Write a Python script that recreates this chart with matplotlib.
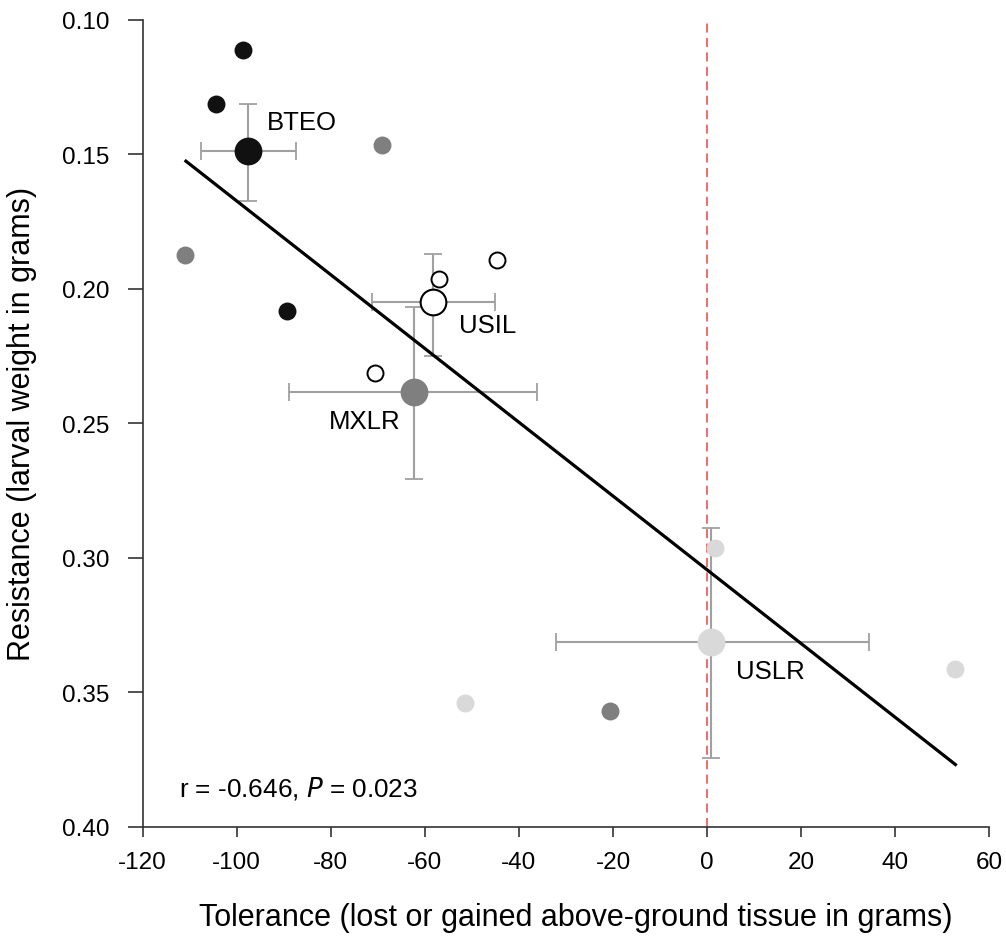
import numpy as np
import matplotlib.pyplot as plt

plt.rcParams['font.family'] = ['Liberation Sans', 'DejaVu Sans']
plt.rcParams['axes.unicode_minus'] = False

# individual plants (tolerance, resistance), grouped by population
bteo_x = [-98.7, -104.4, -89.4]
bteo_y = [0.1112, 0.1314, 0.2083]
mxlr_x = [-69.1, -111.1, -20.6]
mxlr_y = [0.1464, 0.1874, 0.3569]
usil_x = [-44.6, -57.0, -70.6]
usil_y = [0.1891, 0.1963, 0.2313]
uslr_x = [1.6, -51.5, 52.7]
uslr_y = [0.2964, 0.3541, 0.3414]

# population means with error bars
pop_names = ['BTEO', 'MXLR', 'USIL', 'USLR']
mean_x = [-97.5, -62.4, -58.2, 0.8]
mean_y = [0.1486, 0.2382, 0.2050, 0.3314]
xerr_lo = [10.0, 26.5, 12.95, 32.9]
xerr_hi = [10.1, 26.2, 13.15, 33.6]
yerr_lo = [0.0172, 0.0315, 0.0180, 0.0426]
yerr_hi = [0.0188, 0.0325, 0.0200, 0.0432]

# regression line end points
fit_x = [-110.8, 52.8]
fit_y = [0.1525, 0.3769]

fig = plt.figure(figsize=(10.06, 9.37), dpi=100)
ax = fig.add_axes([0.1418, 0.1167, 0.8416, 0.8609])

face = ['#111111', '#7f7f7f', '#ffffff', '#d9d9d9']
edge = ['#111111', '#7f7f7f', '#000000', '#d9d9d9']
small_x = [bteo_x, mxlr_x, usil_x, uslr_x]
small_y = [bteo_y, mxlr_y, usil_y, uslr_y]

ax.axvline(0, color='#f06060', lw=1.3, ls=(0, (5, 3)), zorder=1)

for i in range(4):
    ax.errorbar(mean_x[i], mean_y[i],
                xerr=[[xerr_lo[i]], [xerr_hi[i]]],
                yerr=[[yerr_lo[i]], [yerr_hi[i]]],
                fmt='none', ecolor='#a0a0a0', elinewidth=1.5,
                capsize=6.5, capthick=1.3, zorder=2)

ax.plot(fit_x, fit_y, color='black', lw=2.3, zorder=3)

for i in range(4):
    ax.plot(small_x[i], small_y[i], 'o', ms=11.5, mfc=face[i],
            mec=edge[i], mew=1.4, ls='none', zorder=4)
    ax.plot(mean_x[i], mean_y[i], 'o', ms=18.5, mfc=face[i],
            mec=edge[i], mew=1.5, ls='none', zorder=5)

ax.text(-93.5, 0.1378, 'BTEO', fontsize=18.5, va='center', ha='left')
ax.text(-52.7, 0.2135, 'USIL', fontsize=18.5, va='center', ha='left')
ax.text(-65.2, 0.2490, 'MXLR', fontsize=18.5, va='center', ha='right')
ax.text(6.2, 0.3420, 'USLR', fontsize=18.5, va='center', ha='left')
ax.text(-112.3, 0.3855, r'r = -0.646, $\it{P}$ = 0.023', fontsize=18.8,
        va='center', ha='left')

ax.set_xlim(-120, 60)
ax.set_ylim(0.40, 0.10)
ax.set_xticks(np.arange(-120, 61, 20))
ax.set_yticks([0.10, 0.15, 0.20, 0.25, 0.30, 0.35, 0.40])
ax.set_yticklabels(['0.10', '0.15', '0.20', '0.25', '0.30', '0.35', '0.40'])

for s in ['top', 'right']:
    ax.spines[s].set_visible(False)
for s in ['left', 'bottom']:
    ax.spines[s].set_linewidth(1.2)
    ax.spines[s].set_color('#333333')

ax.tick_params(axis='y', direction='out', length=10.8, width=1.2,
               color='#333333', pad=13, labelsize=17.5)
ax.tick_params(axis='x', direction='out', length=7.5, width=1.2,
               color='#333333', pad=10, labelsize=17.5)

ax.set_xlabel('Tolerance (lost or gained above-ground tissue in grams)',
              fontsize=22, labelpad=21)
ax.xaxis.label.set_x(0.512)
ax.set_ylabel('Resistance (larval weight in grams)', fontsize=22,
              labelpad=18)

fig.savefig('out.png', dpi=100)
